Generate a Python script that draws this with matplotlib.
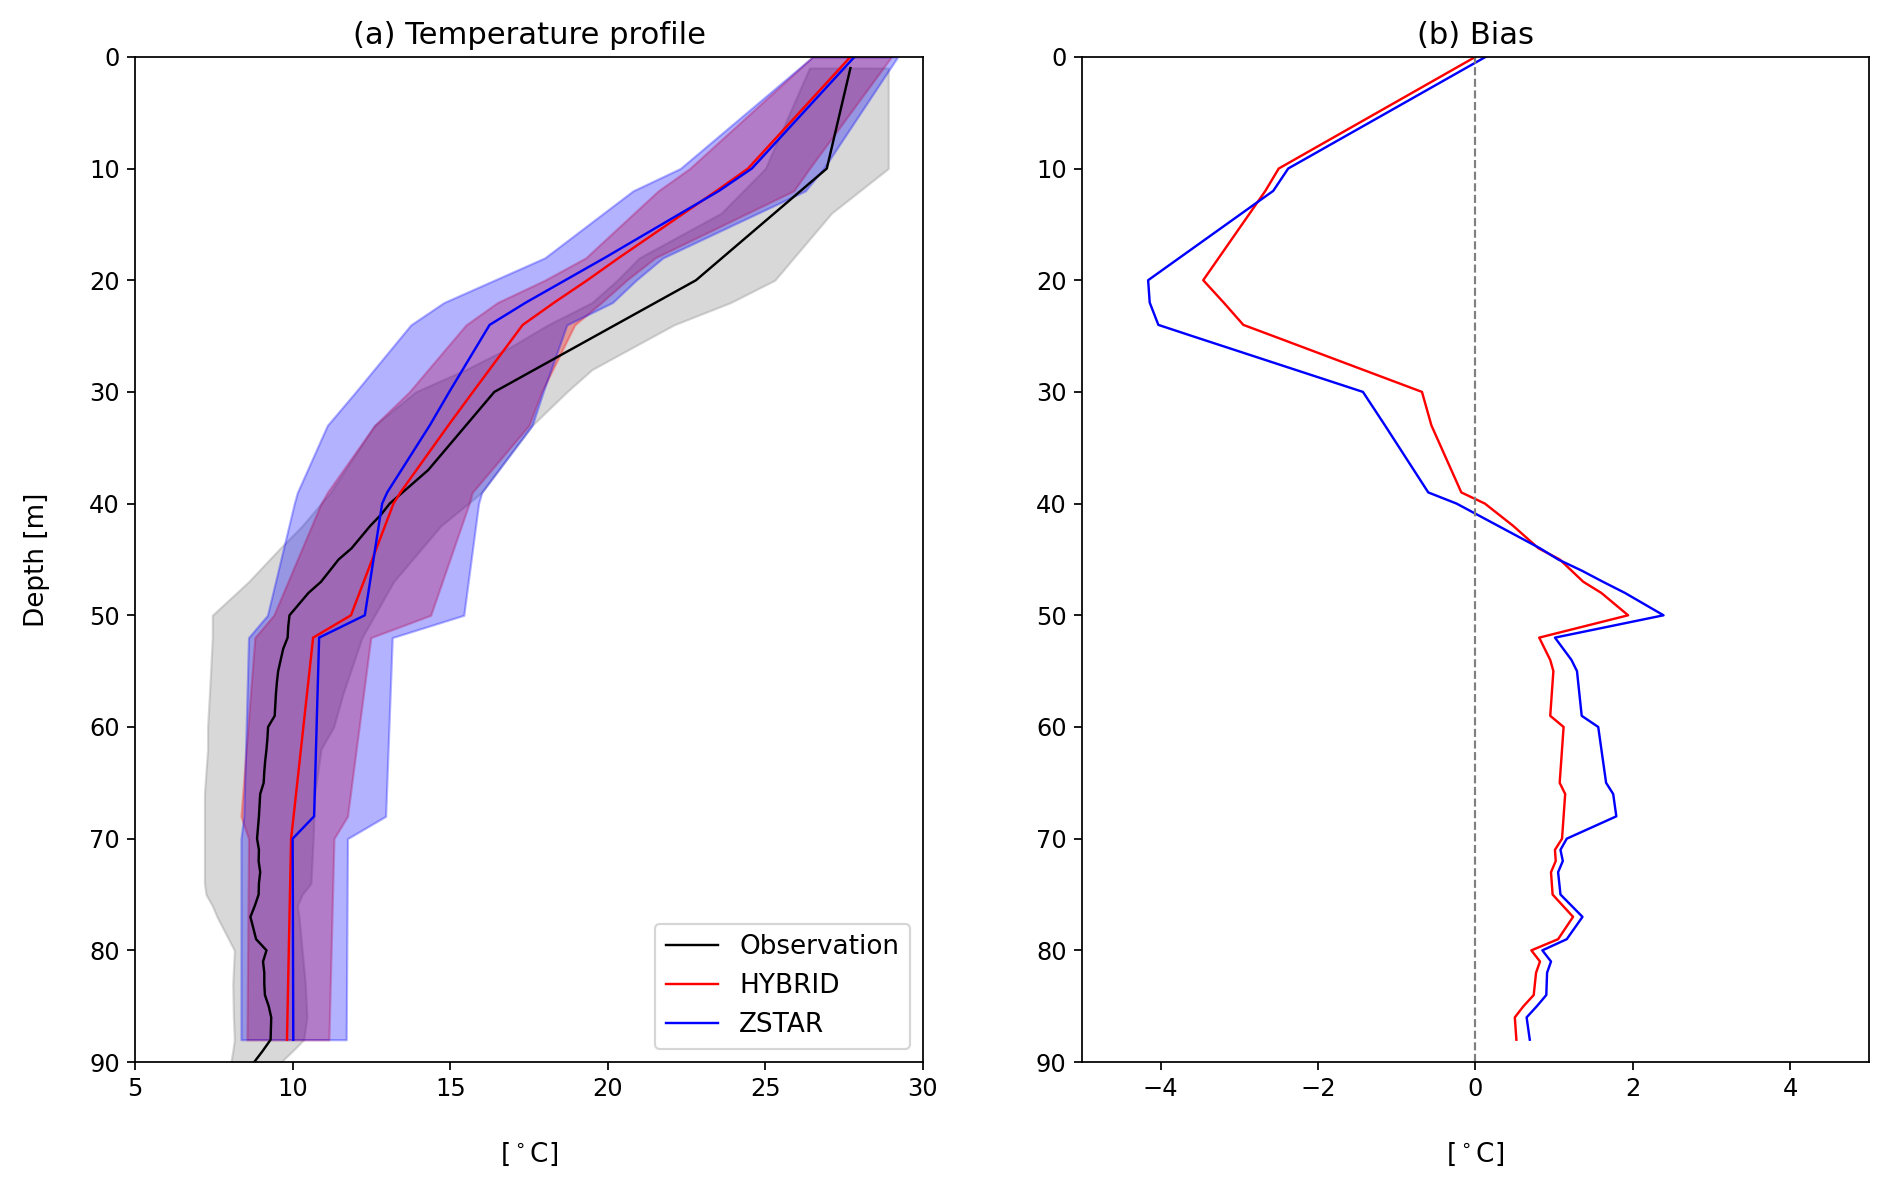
"""Temperature profile and bias for HYBRID and ZSTAR vs observation"""
import matplotlib
matplotlib.use("Agg")
import matplotlib.pyplot as plt

# Observation profile (mean)
obs_depth = [1, 10, 20, 30, 33, 37, 40, 41, 42, 44, 45, 47, 48,
             50, 51, 52, 53, 54, 55, 56, 57, 58, 59, 60, 61, 62, 63, 64, 65,
             66, 67, 68, 69, 70, 71, 72, 73, 74, 75, 76, 77, 78, 79, 80,
             81, 82, 83, 84, 85, 86, 87, 88, 89, 90]
obs_temp = [27.7, 26.95, 22.8, 16.4, 15.5, 14.3, 13.08, 12.8, 12.46, 11.87, 11.46, 10.9, 10.5,
            9.9, 9.86, 9.84, 9.7, 9.62, 9.54, 9.5, 9.47, 9.45, 9.43, 9.22, 9.2, 9.17, 9.13, 9.1, 9.08,
            8.97, 8.95, 8.93, 8.9, 8.87, 8.93, 8.92, 8.97, 8.93, 8.92, 8.8, 8.66, 8.75, 8.84, 9.17,
            9.06, 9.1, 9.1, 9.12, 9.24, 9.32, 9.31, 9.3, 9.05, 8.78]

# Observation spread (grey band)
obs_band_depth = [1, 10, 14, 18, 20, 22, 24, 26, 28, 30, 33, 36, 39, 42, 44, 47, 50,
                  52, 57, 60, 62, 66, 70, 74, 75, 76, 77, 80, 83, 86, 88, 89, 90]
obs_lo = [26.4, 25.0, 23.6, 21.0, 20.3, 19.5, 18.1, 16.9, 15.5, 13.9, 12.6, 11.9, 11.2, 10.3, 9.6, 8.6, 7.45,
          7.45, 7.36, 7.3, 7.3, 7.2, 7.2, 7.2, 7.25, 7.45, 7.6, 8.15, 8.1, 8.12, 8.15, 8.1, 8.04]
obs_hi = [28.9, 28.9, 27.1, 25.9, 25.3, 23.9, 22.1, 20.8, 19.5, 18.7, 17.6, 16.8, 16.0, 14.7, 14.1, 13.2, 12.6,
          12.2, 11.6, 11.3, 10.9, 10.7, 10.65, 10.58, 10.3, 10.15, 10.2, 10.3, 10.4, 10.45, 10.35, 10.0, 9.63]

# Model levels
mdl_depth = [0, 10, 12, 18, 20, 22, 24, 30, 33, 39, 40, 50, 52, 68, 70, 88]

hyb_temp = [27.7, 24.45, 23.45, 20.35, 19.35, 18.3, 17.3, 15.72, 14.94, 13.42, 13.2, 11.85, 10.65, 10.03, 9.95, 9.82]
hyb_lo = [26.5, 22.6, 21.6, 19.3, 18.0, 16.5, 15.5, 13.7, 12.6, 11.1, 10.9, 9.4, 8.8, 8.36, 8.6, 8.55]
hyb_hi = [29.0, 26.4, 25.9, 21.5, 20.6, 19.8, 18.95, 17.9, 17.5, 15.7, 15.6, 14.38, 12.48, 11.74, 11.31, 11.15]

zst_temp = [27.83, 24.57, 23.53, 19.9, 18.65, 17.4, 16.25, 14.97, 14.35, 13.0, 12.84, 12.29, 10.84, 10.68, 10.0, 10.02]
zst_lo = [26.5, 22.3, 20.8, 18.0, 16.4, 14.8, 13.75, 12.0, 11.1, 10.15, 10.05, 9.2, 8.6, 8.45, 8.36, 8.36]
zst_hi = [29.2, 26.85, 26.27, 21.75, 20.9, 20.15, 18.7, 17.95, 17.6, 16.0, 15.9, 15.43, 13.16, 12.95, 11.74, 11.7]

# Bias (model - observation)
bias_depth = [0, 10, 12, 20, 22, 24, 25, 30, 33, 39, 40, 42, 44, 45, 46, 47, 48, 50,
              52, 54, 55, 59, 60, 65, 66, 68, 70, 71, 72, 73, 75, 77, 79, 80, 81, 82, 84, 85, 86, 88]
hyb_bias = [0.0, -2.5, -2.67, -3.46, -3.2, -2.95, -2.57, -0.68, -0.56, -0.18, 0.12, 0.48, 0.8, 1.07, 1.22, 1.37, 1.6, 1.94,
            0.81, 0.95, 0.99, 0.95, 1.12, 1.07, 1.14, 1.12, 1.1, 1.01, 1.02, 0.96, 0.98, 1.24, 1.05, 0.71, 0.82, 0.77, 0.74, 0.61, 0.5, 0.52]
zst_bias = [0.13, -2.38, -2.57, -4.16, -4.14, -4.03, -3.6, -1.43, -1.15, -0.6, -0.24, 0.29, 0.82, 1.05, 1.35, 1.62, 1.9, 2.39,
            1.01, 1.22, 1.29, 1.35, 1.56, 1.66, 1.75, 1.79, 1.16, 1.08, 1.11, 1.05, 1.08, 1.36, 1.16, 0.85, 0.96, 0.91, 0.9, 0.78, 0.65, 0.69]

DPI = 157.7
fig = plt.figure(figsize=(1892 / DPI, 1184 / DPI), dpi=DPI)
ax1 = fig.add_axes([0.0714, 0.103, 0.4164, 0.849])
ax2 = fig.add_axes([0.5719, 0.103, 0.4159, 0.849])

# (a) temperature profile
ax1.fill_betweenx(obs_band_depth, obs_lo, obs_hi, color='gray', alpha=0.3)
ax1.fill_betweenx(mdl_depth, hyb_lo, hyb_hi, color='red', alpha=0.3)
ax1.fill_betweenx(mdl_depth, zst_lo, zst_hi, color='blue', alpha=0.3)
ax1.plot(obs_temp, obs_depth, color='black', lw=1.1, label='Observation')
ax1.plot(hyb_temp, mdl_depth, color='red', lw=1.1, label='HYBRID')
ax1.plot(zst_temp, mdl_depth, color='blue', lw=1.1, label='ZSTAR')
ax1.set_xlim(5, 30)
ax1.set_ylim(90, 0)
ax1.set_yticks(range(0, 91, 10))
ax1.tick_params(labelsize=11)
ax1.set_xlabel(r'[$^\circ$C]', fontsize=12, labelpad=18)
ax1.set_ylabel('Depth [m]', fontsize=12, labelpad=18)
ax1.set_title('(a) Temperature profile', fontsize=14)
ax1.legend(loc='lower right', fontsize=12)

# (b) bias
ax2.plot(hyb_bias, bias_depth, color='red', lw=1.1)
ax2.plot(zst_bias, bias_depth, color='blue', lw=1.1)
ax2.axvline(0, color='gray', ls='--', lw=1)
ax2.set_xlim(-5, 5)
ax2.set_xticks([-4, -2, 0, 2, 4])
ax2.set_ylim(90, 0)
ax2.set_yticks(range(0, 91, 10))
ax2.tick_params(labelsize=11)
ax2.set_xlabel(r'[$^\circ$C]', fontsize=12, labelpad=18)
ax2.set_title('(b) Bias', fontsize=14)

fig.savefig('out.png', dpi=DPI)
